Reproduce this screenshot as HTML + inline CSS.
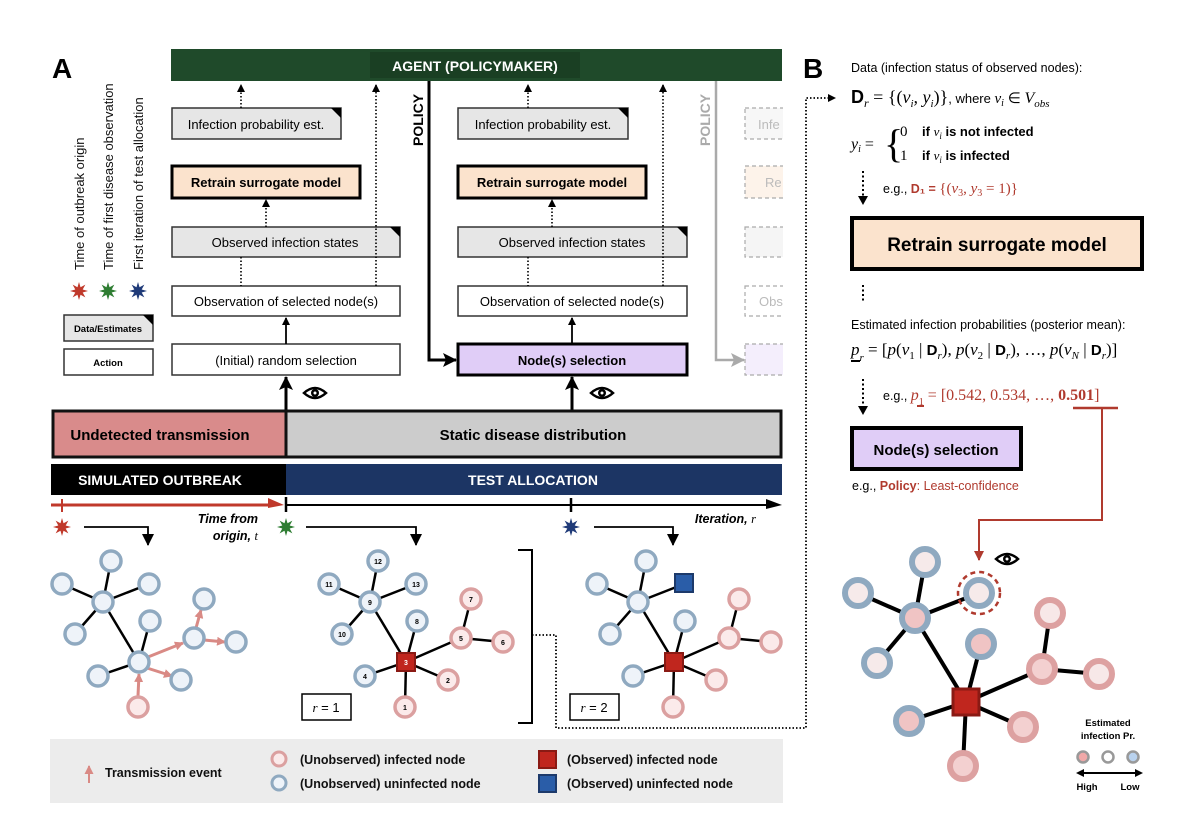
<!DOCTYPE html>
<html><head><meta charset="utf-8"><style>
html,body{margin:0;padding:0;background:#fff}
svg{display:block}
text{font-family:"Liberation Sans",sans-serif}
.s{font-family:"Liberation Serif",serif}
</style></head><body>
<svg width="1196" height="832" viewBox="0 0 1196 832" xmlns="http://www.w3.org/2000/svg">
<defs>
<marker id="ab" markerWidth="8" markerHeight="8" refX="7" refY="4" orient="auto" markerUnits="userSpaceOnUse" viewBox="0 0 8 8"><path d="M0,0 L8,4 L0,8 Z" fill="#000"/></marker>
<marker id="abL" markerWidth="14" markerHeight="14" refX="13" refY="7" orient="auto" markerUnits="userSpaceOnUse" viewBox="0 0 14 14"><path d="M0,0 L14,7 L0,14 L3,7 Z" fill="#000"/></marker>
<marker id="ag" markerWidth="14" markerHeight="14" refX="13" refY="7" orient="auto" markerUnits="userSpaceOnUse" viewBox="0 0 14 14"><path d="M0,0 L14,7 L0,14 L3,7 Z" fill="#aaa"/></marker>
<marker id="ap" markerWidth="9" markerHeight="9" refX="8" refY="4.5" orient="auto" markerUnits="userSpaceOnUse" viewBox="0 0 9 9"><path d="M0,0 L9,4.5 L0,9 Z" fill="#d98a85"/></marker>
<marker id="ar" markerWidth="12" markerHeight="12" refX="11" refY="6" orient="auto" markerUnits="userSpaceOnUse" viewBox="0 0 12 12"><path d="M0,0 L12,6 L0,12 Z" fill="#000"/></marker>
<marker id="arr" markerWidth="10" markerHeight="10" refX="9" refY="5" orient="auto" markerUnits="userSpaceOnUse" viewBox="0 0 10 10"><path d="M0,0 L10,5 L0,10 Z" fill="#b03a2e"/></marker>
<marker id="arrr" markerWidth="14" markerHeight="14" refX="13" refY="7" orient="auto" markerUnits="userSpaceOnUse" viewBox="0 0 14 14"><path d="M0,0 L14,7 L0,14 Z" fill="#b8302a"/></marker>
<path id="star" d="M9,0 L3.7,1.53 L6.36,6.36 L1.53,3.7 L0,9 L-1.53,3.7 L-6.36,6.36 L-3.7,1.53 L-9,0 L-3.7,-1.53 L-6.36,-6.36 L-1.53,-3.7 L0,-9 L1.53,-3.7 L6.36,-6.36 L3.7,-1.53 Z"/>
<g id="eye"><path d="M-11,0 Q0,-10 11,0 Q0,10 -11,0 Z" fill="#fff" stroke="#000" stroke-width="2.5"/><circle r="4" fill="#000"/><circle r="1.5" fill="#fff"/></g>
<path id="corner" d="M-10,0 L0,0 L0,10 Z" fill="#000"/>
</defs>

<text x="52" y="78" font-size="28" font-weight="bold">A</text>

<g font-size="13" fill="#111">
<text transform="translate(84,270) rotate(-90)">Time of outbreak origin</text>
<text transform="translate(113,270) rotate(-90)">Time of first disease observation</text>
<text transform="translate(143,270) rotate(-90)">First iteration of test allocation</text>
</g>
<use href="#star" x="79" y="291" fill="#c0392b"/>
<use href="#star" x="108" y="291" fill="#2e7d32"/>
<use href="#star" x="138" y="291" fill="#1f3a78"/>
<rect x="64" y="315" width="89" height="26" fill="#e6e6e6" stroke="#333" stroke-width="1.5"/>
<use href="#corner" x="153" y="315"/>
<text x="108" y="332" font-size="9.5" font-weight="bold" text-anchor="middle">Data/Estimates</text>
<rect x="64" y="349" width="89" height="26" fill="#fff" stroke="#333" stroke-width="1.5"/>
<text x="108" y="366" font-size="9.5" font-weight="bold" text-anchor="middle">Action</text>

<rect x="171" y="49" width="611" height="32" fill="#1f4a2a"/>
<rect x="370" y="52" width="210" height="26" fill="#1a3f23"/>
<text x="475" y="71" font-size="14" font-weight="bold" fill="#fff" text-anchor="middle">AGENT (POLICYMAKER)</text>

<g font-size="13" text-anchor="middle">
<rect x="172" y="108" width="169" height="31" fill="#e6e6e6" stroke="#333" stroke-width="1.5"/><use href="#corner" x="341" y="108"/>
<text x="256" y="129">Infection probability est.</text>
<rect x="172" y="166" width="188" height="32" fill="#fbe3cd" stroke="#000" stroke-width="3"/>
<text x="266" y="187" font-weight="bold">Retrain surrogate model</text>
<rect x="172" y="227" width="228" height="30" fill="#e6e6e6" stroke="#333" stroke-width="1.5"/><use href="#corner" x="400" y="227"/>
<text x="285" y="247">Observed infection states</text>
<rect x="172" y="286" width="228" height="30" fill="#fff" stroke="#333" stroke-width="1.5"/>
<text x="286" y="306">Observation of selected node(s)</text>
<rect x="172" y="344" width="228" height="31" fill="#fff" stroke="#333" stroke-width="1.5"/>
<text x="286" y="365">(Initial) random selection</text>

<rect x="458" y="108" width="170" height="31" fill="#e6e6e6" stroke="#333" stroke-width="1.5"/><use href="#corner" x="628" y="108"/>
<text x="543" y="129">Infection probability est.</text>
<rect x="458" y="166" width="188" height="32" fill="#fbe3cd" stroke="#000" stroke-width="3"/>
<text x="552" y="187" font-weight="bold">Retrain surrogate model</text>
<rect x="458" y="227" width="229" height="30" fill="#e6e6e6" stroke="#333" stroke-width="1.5"/><use href="#corner" x="687" y="227"/>
<text x="572" y="247">Observed infection states</text>
<rect x="458" y="286" width="229" height="30" fill="#fff" stroke="#333" stroke-width="1.5"/>
<text x="572" y="306">Observation of selected node(s)</text>
<rect x="458" y="344" width="229" height="31" fill="#e0cdf7" stroke="#000" stroke-width="3"/>
<text x="572" y="365" font-weight="bold">Node(s) selection</text>
</g>

<g stroke="#aaa" stroke-width="1.2" stroke-dasharray="4,3" font-size="13" fill="#bbb">
<rect x="745" y="108" width="45" height="31" fill="#f7f7f7"/>
<rect x="745" y="166" width="45" height="32" fill="#fdf3ea"/>
<rect x="745" y="227" width="45" height="30" fill="#f5f5f5"/>
<rect x="745" y="286" width="45" height="30" fill="#fff"/>
<rect x="745" y="344" width="45" height="31" fill="#f4eefc"/>
</g>
<rect x="783" y="100" width="20" height="290" fill="#fff"/>
<g font-size="13" fill="#bbb" stroke="none">
<text x="758" y="129">Infe</text><text x="765" y="187">Re</text><text x="759" y="306">Obs</text>
</g>

<g stroke="#000" stroke-width="1.6" stroke-dasharray="1.5,2" fill="none">
<line x1="241" y1="108" x2="241" y2="85" marker-end="url(#ab)"/>
<line x1="241" y1="257" x2="241" y2="286"/>
<line x1="266" y1="227" x2="266" y2="200" marker-end="url(#ab)"/>
<line x1="376" y1="286" x2="376" y2="85" marker-end="url(#ab)"/>
<line x1="528" y1="108" x2="528" y2="85" marker-end="url(#ab)"/>
<line x1="528" y1="257" x2="528" y2="286"/>
<line x1="552" y1="227" x2="552" y2="200" marker-end="url(#ab)"/>
<line x1="663" y1="286" x2="663" y2="85" marker-end="url(#ab)"/>
</g>
<g stroke="#000" fill="none">
<line x1="286" y1="344" x2="286" y2="318" stroke-width="1.8" marker-end="url(#ab)"/>
<line x1="572" y1="344" x2="572" y2="318" stroke-width="1.8" marker-end="url(#ab)"/>
<line x1="286" y1="412" x2="286" y2="377" stroke-width="3" marker-end="url(#abL)"/>
<line x1="572" y1="412" x2="572" y2="377" stroke-width="3" marker-end="url(#abL)"/>
<polyline points="429,81 429,360 456,360" stroke-width="3" marker-end="url(#abL)"/>
<polyline points="716,81 716,360 744,360" stroke="#aaa" stroke-width="2.5" marker-end="url(#ag)"/>
</g>
<text transform="translate(423,146) rotate(-90)" font-size="14" font-weight="bold">POLICY</text>
<text transform="translate(710,146) rotate(-90)" font-size="14" font-weight="bold" fill="#aaa">POLICY</text>
<use href="#eye" x="315" y="393"/>
<use href="#eye" x="602" y="393"/>

<rect x="53" y="411" width="233" height="46" fill="#d98b8b" stroke="#111" stroke-width="3"/>
<rect x="286" y="411" width="495" height="46" fill="#cccccc" stroke="#111" stroke-width="3"/>
<text x="160" y="440" font-size="15" font-weight="bold" text-anchor="middle">Undetected transmission</text>
<text x="533" y="440" font-size="15" font-weight="bold" text-anchor="middle">Static disease distribution</text>
<rect x="51" y="464" width="235" height="31" fill="#000"/>
<rect x="286" y="464" width="496" height="31" fill="#1c3564"/>
<text x="160" y="485" font-size="14" font-weight="bold" fill="#fff" text-anchor="middle">SIMULATED OUTBREAK</text>
<text x="533" y="485" font-size="14" font-weight="bold" fill="#fff" text-anchor="middle">TEST ALLOCATION</text>

<line x1="51" y1="505" x2="270" y2="505" stroke="#c0392b" stroke-width="3"/>
<path d="M268,498 L284,505 L268,508 Z" fill="#c0392b"/>
<line x1="62" y1="499" x2="62" y2="512" stroke="#c0392b" stroke-width="2"/>
<line x1="286" y1="505" x2="770" y2="505" stroke="#000" stroke-width="2"/>
<path d="M766,499 L782,505 L766,509 Z" fill="#000"/>
<line x1="286" y1="497" x2="286" y2="512" stroke="#000" stroke-width="2.5"/>
<line x1="571" y1="498" x2="571" y2="512" stroke="#000" stroke-width="2.5"/>
<use href="#star" x="62" y="527" fill="#c0392b"/>
<use href="#star" x="286" y="527" fill="#2e7d32"/>
<use href="#star" x="571" y="527" fill="#1f3a78"/>
<g font-size="12.5" font-weight="bold" font-style="italic" text-anchor="end">
<text x="258" y="523">Time from</text><text x="258" y="540">origin, <tspan class="s" font-weight="normal">t</tspan></text>
<text x="756" y="523">Iteration, <tspan class="s" font-weight="normal">r</tspan></text>
</g>
<g stroke="#000" stroke-width="1.8" fill="none">
<polyline points="84,527 148,527 148,545" marker-end="url(#ar)"/>
<polyline points="306,527 416,527 416,545" marker-end="url(#ar)"/>
<polyline points="594,527 673,527 673,545" marker-end="url(#ar)"/>
</g>

<g stroke="#000" stroke-width="2.5">
<line x1="103" y1="602" x2="111" y2="561"/><line x1="103" y1="602" x2="62" y2="584"/><line x1="103" y1="602" x2="149" y2="584"/>
<line x1="103" y1="602" x2="75" y2="634"/><line x1="103" y1="602" x2="139" y2="662"/><line x1="139" y1="662" x2="150" y2="621"/><line x1="139" y1="662" x2="98" y2="676"/>
</g>
<g stroke="#d98a85" stroke-width="3">
<line x1="138" y1="696" x2="139" y2="674" marker-end="url(#ap)"/>
<line x1="148" y1="657" x2="183" y2="643" marker-end="url(#ap)"/>
<line x1="147" y1="668" x2="172" y2="676" marker-end="url(#ap)"/>
<line x1="196" y1="628" x2="201" y2="610" marker-end="url(#ap)"/>
<line x1="204" y1="640" x2="225" y2="642" marker-end="url(#ap)"/>
</g>
<g stroke="#8fa9c0" stroke-width="3.5" fill="#eef3f9">
<circle cx="111" cy="561" r="10"/><circle cx="62" cy="584" r="10"/><circle cx="149" cy="584" r="10"/><circle cx="103" cy="602" r="10"/>
<circle cx="75" cy="634" r="10"/><circle cx="150" cy="621" r="10"/><circle cx="139" cy="662" r="10"/><circle cx="98" cy="676" r="10"/>
<circle cx="181" cy="680" r="10"/><circle cx="194" cy="638" r="10"/><circle cx="204" cy="599" r="10"/><circle cx="236" cy="642" r="10"/>
</g>
<circle cx="138" cy="707" r="10" stroke="#dba0a0" stroke-width="3.5" fill="#fbeaea"/>

<g transform="translate(267,0)">
<g stroke="#000" stroke-width="2.5">
<line x1="103" y1="602" x2="111" y2="561"/><line x1="103" y1="602" x2="62" y2="584"/><line x1="103" y1="602" x2="149" y2="584"/>
<line x1="103" y1="602" x2="75" y2="634"/><line x1="103" y1="602" x2="139" y2="662"/><line x1="139" y1="662" x2="150" y2="621"/><line x1="139" y1="662" x2="98" y2="676"/>
<line x1="139" y1="662" x2="181" y2="680"/><line x1="139" y1="662" x2="194" y2="638"/><line x1="139" y1="662" x2="138" y2="707"/>
<line x1="194" y1="638" x2="204" y2="599"/><line x1="194" y1="638" x2="236" y2="642"/>
</g>
<g stroke="#8fa9c0" stroke-width="3.5" fill="#eef3f9">
<circle cx="111" cy="561" r="10"/><circle cx="62" cy="584" r="10"/><circle cx="149" cy="584" r="10"/><circle cx="103" cy="602" r="10"/>
<circle cx="75" cy="634" r="10"/><circle cx="150" cy="621" r="10"/><circle cx="98" cy="676" r="10"/>
</g>
<g stroke="#dba0a0" stroke-width="3.5" fill="#fbeaea">
<circle cx="181" cy="680" r="10"/><circle cx="194" cy="638" r="10"/><circle cx="204" cy="599" r="10"/><circle cx="236" cy="642" r="10"/><circle cx="138" cy="707" r="10"/>
</g>
<rect x="130" y="653" width="18" height="18" fill="#c0261e" stroke="#8a1a14" stroke-width="2"/>
<g font-size="7" font-weight="bold" text-anchor="middle">
<text x="111" y="564">12</text><text x="62" y="587">11</text><text x="149" y="587">13</text><text x="103" y="605">9</text>
<text x="75" y="637">10</text><text x="150" y="624">8</text><text x="139" y="665" fill="#fff">3</text><text x="98" y="679">4</text>
<text x="181" y="683">2</text><text x="194" y="641">5</text><text x="204" y="602">7</text><text x="236" y="645">6</text><text x="138" y="710">1</text>
</g>
</g>
<g transform="translate(535,0)">
<g stroke="#000" stroke-width="2.5">
<line x1="103" y1="602" x2="111" y2="561"/><line x1="103" y1="602" x2="62" y2="584"/><line x1="103" y1="602" x2="149" y2="584"/>
<line x1="103" y1="602" x2="75" y2="634"/><line x1="103" y1="602" x2="139" y2="662"/><line x1="139" y1="662" x2="150" y2="621"/><line x1="139" y1="662" x2="98" y2="676"/>
<line x1="139" y1="662" x2="181" y2="680"/><line x1="139" y1="662" x2="194" y2="638"/><line x1="139" y1="662" x2="138" y2="707"/>
<line x1="194" y1="638" x2="204" y2="599"/><line x1="194" y1="638" x2="236" y2="642"/>
</g>
<g stroke="#8fa9c0" stroke-width="3.5" fill="#eef3f9">
<circle cx="111" cy="561" r="10"/><circle cx="62" cy="584" r="10"/><circle cx="103" cy="602" r="10"/>
<circle cx="75" cy="634" r="10"/><circle cx="150" cy="621" r="10"/><circle cx="98" cy="676" r="10"/>
</g>
<g stroke="#dba0a0" stroke-width="3.5" fill="#fbeaea">
<circle cx="181" cy="680" r="10"/><circle cx="194" cy="638" r="10"/><circle cx="204" cy="599" r="10"/><circle cx="236" cy="642" r="10"/><circle cx="138" cy="707" r="10"/>
</g>
<rect x="130" y="653" width="18" height="18" fill="#c0261e" stroke="#8a1a14" stroke-width="2"/>
<rect x="140" y="574" width="18" height="18" fill="#2a5da8" stroke="#1d3a6b" stroke-width="2"/>
</g>

<rect x="302" y="694" width="49" height="26" fill="#fff" stroke="#000" stroke-width="1.5"/>
<text x="326" y="712" font-size="13" text-anchor="middle"><tspan class="s" font-style="italic">r</tspan> = 1</text>
<rect x="570" y="694" width="49" height="26" fill="#fff" stroke="#000" stroke-width="1.5"/>
<text x="594" y="712" font-size="13" text-anchor="middle"><tspan class="s" font-style="italic">r</tspan> = 2</text>
<polyline points="518,550 532,550 532,723 518,723" fill="none" stroke="#000" stroke-width="2"/>
<polyline points="532,635 556,635 556,728 806,728 806,98 830,98" fill="none" stroke="#000" stroke-width="1.8" stroke-dasharray="1.5,2"/>
<path d="M828,94 L836,98 L828,102 Z" fill="#000"/>

<rect x="50" y="739" width="733" height="64" fill="#ececec"/>
<line x1="89" y1="783" x2="89" y2="766" stroke="#d98a85" stroke-width="2" marker-end="url(#ap)"/>
<g font-size="12.5" font-weight="bold" fill="#111">
<text x="105" y="777">Transmission event</text>
<text x="300" y="764">(Unobserved) infected node</text>
<text x="300" y="788">(Unobserved) uninfected node</text>
<text x="567" y="764">(Observed) infected node</text>
<text x="567" y="788">(Observed) uninfected node</text>
</g>
<circle cx="279" cy="759" r="7" stroke="#dba0a0" stroke-width="3" fill="#fbeaea"/>
<circle cx="279" cy="783" r="7" stroke="#8fa9c0" stroke-width="3" fill="#eef3f9"/>
<rect x="539" y="751" width="17" height="17" fill="#c0261e" stroke="#8a1a14" stroke-width="2"/>
<rect x="539" y="775" width="17" height="17" fill="#2a5da8" stroke="#1d3a6b" stroke-width="2"/>

<text x="803" y="78" font-size="28" font-weight="bold">B</text>
<text x="851" y="72" font-size="12.5">Data (infection status of observed nodes):</text>
<text x="851" y="103" font-size="18"><tspan font-weight="bold">D</tspan><tspan class="s" font-style="italic" font-size="12" dy="4">r</tspan><tspan class="s" dy="-4"> = {(</tspan><tspan class="s" font-style="italic">v<tspan font-size="11" dy="4">i</tspan><tspan dy="-4">, y</tspan><tspan font-size="11" dy="4">i</tspan></tspan><tspan class="s" dy="-4">)}</tspan><tspan font-size="13">, where </tspan><tspan class="s" font-style="italic" font-size="15">v<tspan font-size="10" dy="3">i</tspan><tspan dy="-3"> </tspan></tspan><tspan class="s" font-size="15">∈ </tspan><tspan class="s" font-style="italic" font-size="16">V<tspan font-size="11" dy="4">obs</tspan></tspan></text>
<text x="851" y="149" class="s" font-size="16" font-style="italic">y<tspan font-size="10" dy="3">i</tspan><tspan dy="-3" font-style="normal"> =</tspan></text>
<text x="884" y="157" class="s" font-size="40">{</text>
<text x="900" y="136" class="s" font-size="15">0</text>
<text x="900" y="160" class="s" font-size="15">1</text>
<text x="922" y="136" font-size="13" font-weight="bold">if <tspan class="s" font-style="italic" font-weight="normal">v<tspan font-size="9" dy="3">i</tspan></tspan><tspan dy="-3"> is not infected</tspan></text>
<text x="922" y="160" font-size="13" font-weight="bold">if <tspan class="s" font-style="italic" font-weight="normal">v<tspan font-size="9" dy="3">i</tspan></tspan><tspan dy="-3"> is infected</tspan></text>
<line x1="863" y1="171" x2="863" y2="198" stroke="#000" stroke-width="2" stroke-dasharray="2,2.5"/>
<path d="M858,196 L868,196 L863,205 Z" fill="#000"/>
<text x="883" y="193" font-size="12.5">e.g., <tspan fill="#b03a2e" font-weight="bold">D₁ = </tspan><tspan class="s" fill="#b03a2e" font-size="15">{(<tspan font-style="italic">v</tspan><tspan font-size="10" dy="3">3</tspan><tspan dy="-3">, </tspan><tspan font-style="italic">y</tspan><tspan font-size="10" dy="3">3</tspan><tspan dy="-3"> = 1)}</tspan></tspan></text>
<rect x="852" y="218" width="290" height="51" fill="#fbe3cd" stroke="#000" stroke-width="4"/>
<text x="997" y="251" font-size="19" font-weight="bold" text-anchor="middle">Retrain surrogate model</text>
<line x1="863" y1="285" x2="863" y2="303" stroke="#000" stroke-width="2" stroke-dasharray="2,2.5"/>
<text x="851" y="329" font-size="12.5">Estimated infection probabilities (posterior mean):</text>
<text x="851" y="355" class="s" font-size="17"><tspan font-style="italic">p</tspan><tspan font-size="11" font-style="italic" dy="6">r</tspan><tspan dy="-6"> = [</tspan><tspan font-style="italic">p</tspan>(<tspan font-style="italic">v</tspan><tspan font-size="11" dy="4">1</tspan><tspan dy="-4"> | </tspan><tspan font-family="Liberation Sans" font-weight="bold" font-size="15">D</tspan><tspan font-style="italic" font-size="11" dy="4">r</tspan><tspan dy="-4">), </tspan><tspan font-style="italic">p</tspan>(<tspan font-style="italic">v</tspan><tspan font-size="11" dy="4">2</tspan><tspan dy="-4"> | </tspan><tspan font-family="Liberation Sans" font-weight="bold" font-size="15">D</tspan><tspan font-style="italic" font-size="11" dy="4">r</tspan><tspan dy="-4">), …, </tspan><tspan font-style="italic">p</tspan>(<tspan font-style="italic">v</tspan><tspan font-size="11" font-style="italic" dy="4">N</tspan><tspan dy="-4"> | </tspan><tspan font-family="Liberation Sans" font-weight="bold" font-size="15">D</tspan><tspan font-style="italic" font-size="11" dy="4">r</tspan><tspan dy="-4">)]</tspan></text>
<line x1="851" y1="361" x2="860" y2="361" stroke="#000" stroke-width="2"/>
<line x1="863" y1="379" x2="863" y2="408" stroke="#000" stroke-width="2" stroke-dasharray="2,2.5"/>
<path d="M858,406 L868,406 L863,415 Z" fill="#000"/>
<text x="883" y="400" font-size="12.5">e.g., <tspan class="s" fill="#b03a2e" font-size="16"><tspan font-style="italic">p</tspan><tspan font-size="10" dy="5">1</tspan><tspan dy="-5"> = [0.542, 0.534, …, </tspan><tspan font-weight="bold">0.501</tspan>]</tspan></text>
<line x1="917" y1="406" x2="924" y2="406" stroke="#b03a2e" stroke-width="2"/>
<line x1="1073" y1="408" x2="1118" y2="408" stroke="#b03a2e" stroke-width="2.5"/>
<rect x="852" y="428" width="169" height="41" fill="#e0cdf7" stroke="#000" stroke-width="4"/>
<text x="936" y="455" font-size="15" font-weight="bold" text-anchor="middle">Node(s) selection</text>
<text x="852" y="490" font-size="12.5">e.g., <tspan fill="#b03a2e" font-weight="bold">Policy</tspan><tspan fill="#b03a2e">: Least-confidence</tspan></text>
<polyline points="1102,408 1102,520 979,520 979,560" fill="none" stroke="#b03a2e" stroke-width="2" marker-end="url(#arr)"/>
<use href="#eye" x="1007" y="559"/>

<g stroke="#000" stroke-width="4">
<line x1="915" y1="618" x2="925" y2="562"/><line x1="915" y1="618" x2="858" y2="593"/><line x1="915" y1="618" x2="979" y2="593"/>
<line x1="915" y1="618" x2="877" y2="663"/><line x1="915" y1="618" x2="966" y2="702"/><line x1="966" y1="702" x2="981" y2="644"/>
<line x1="966" y1="702" x2="909" y2="721"/><line x1="966" y1="702" x2="963" y2="766"/><line x1="966" y1="702" x2="1023" y2="727"/>
<line x1="966" y1="702" x2="1042" y2="669"/><line x1="1042" y1="669" x2="1050" y2="613"/><line x1="1042" y1="669" x2="1099" y2="674"/>
</g>
<g stroke="#8fa9c0" stroke-width="6">
<circle cx="925" cy="562" r="13" fill="#f6eaea"/><circle cx="858" cy="593" r="13" fill="#f6eaea"/>
<circle cx="915" cy="618" r="13" fill="#f0c4c4"/><circle cx="979" cy="593" r="13" fill="#f6eaea"/>
<circle cx="877" cy="663" r="13" fill="#f6eaea"/><circle cx="981" cy="644" r="13" fill="#f0c4c4"/>
<circle cx="909" cy="721" r="13" fill="#f0c4c4"/>
</g>
<g stroke="#dda1a1" stroke-width="6">
<circle cx="963" cy="766" r="13" fill="#f3d0d0"/><circle cx="1023" cy="727" r="13" fill="#f3d0d0"/>
<circle cx="1042" cy="669" r="13" fill="#f3d0d0"/><circle cx="1050" cy="613" r="13" fill="#f7e8e8"/>
<circle cx="1099" cy="674" r="13" fill="#f7e8e8"/>
</g>
<circle cx="979" cy="593" r="21" fill="none" stroke="#b03a2e" stroke-width="2.5" stroke-dasharray="5,4"/>
<rect x="953" y="689" width="26" height="26" fill="#c0261e" stroke="#8a1a14" stroke-width="3"/>

<g font-size="9.5" font-weight="bold" text-anchor="middle">
<text x="1108" y="726">Estimated</text><text x="1108" y="739">infection Pr.</text>
<text x="1087" y="790">High</text><text x="1130" y="790">Low</text>
</g>
<circle cx="1083" cy="757" r="5.5" fill="#f0a8a8" stroke="#999" stroke-width="2.5"/>
<circle cx="1108" cy="757" r="5.5" fill="#fff" stroke="#999" stroke-width="2.5"/>
<circle cx="1133" cy="757" r="5.5" fill="#b9d2ee" stroke="#999" stroke-width="2.5"/>
<line x1="1082" y1="773" x2="1138" y2="773" stroke="#000" stroke-width="2"/>
<path d="M1076,773 L1084,769 L1084,777 Z M1143,773 L1135,769 L1135,777 Z" fill="#000"/>
</svg>
</body></html>
